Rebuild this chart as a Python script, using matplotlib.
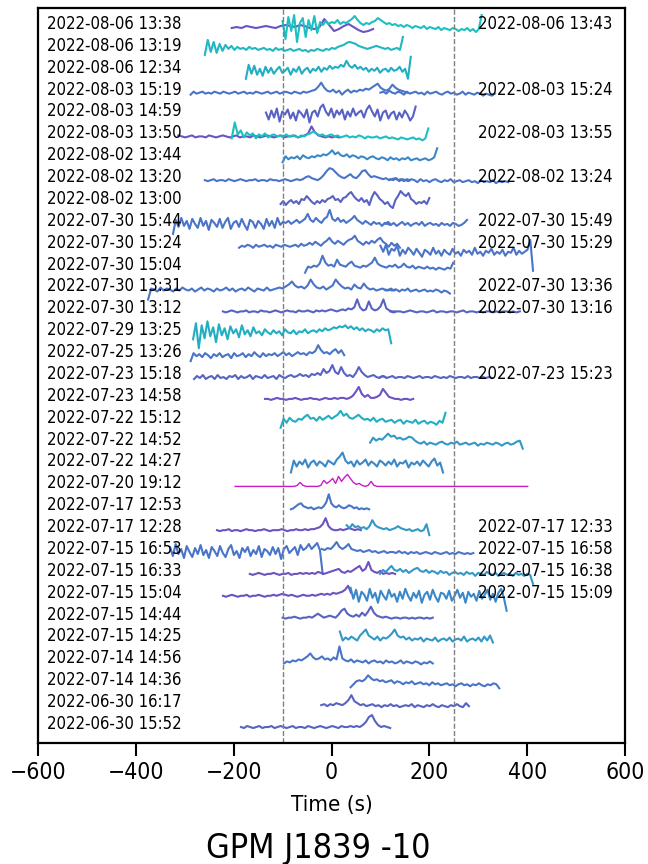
import matplotlib
matplotlib.use('Agg')
import matplotlib.pyplot as plt
from matplotlib import font_manager
import numpy as np

# observation labels, top row first
left_labels = [
    '2022-08-06 13:38', '2022-08-06 13:19', '2022-08-06 12:34', '2022-08-03 15:19',
    '2022-08-03 14:59', '2022-08-03 13:50', '2022-08-02 13:44', '2022-08-02 13:20',
    '2022-08-02 13:00', '2022-07-30 15:44', '2022-07-30 15:24', '2022-07-30 15:04',
    '2022-07-30 13:31', '2022-07-30 13:12', '2022-07-29 13:25', '2022-07-25 13:26',
    '2022-07-23 15:18', '2022-07-23 14:58', '2022-07-22 15:12', '2022-07-22 14:52',
    '2022-07-22 14:27', '2022-07-20 19:12', '2022-07-17 12:53', '2022-07-17 12:28',
    '2022-07-15 16:53', '2022-07-15 16:33', '2022-07-15 15:04', '2022-07-15 14:44',
    '2022-07-15 14:25', '2022-07-14 14:56', '2022-07-14 14:36', '2022-06-30 16:17',
    '2022-06-30 15:52',
]
right_rows = [0, 3, 5, 7, 9, 10, 12, 13, 16, 23, 24, 25, 26]
right_labels = [
    '2022-08-06 13:43', '2022-08-03 15:24', '2022-08-03 13:55', '2022-08-02 13:24',
    '2022-07-30 15:49', '2022-07-30 15:29', '2022-07-30 13:36', '2022-07-30 13:16',
    '2022-07-23 15:23', '2022-07-17 12:33', '2022-07-15 16:58', '2022-07-15 16:38',
    '2022-07-15 15:09',
]

# light curves (arbitrary flux units), one list per observation, sampled evenly
r00a = [-1,0,-1,1,0,-1,0,1,0,-1,1,2,1,0,2,1,-1,-2,0,8,2,-4,-2,1,3,0,-3,-5,-4,-2]
r00b = [6,-12,10,-4,12,-15,4,9,-10,7,-3,11,-6,5,2,6,3,5,4,7,3,5,4,6,8,11,7,4,2,4,
        3,5,6,9,7,5,3,4,2,3,1,2,0,2,1,-1,1,0,-1,1,-2,0,-1,-2,0,-3,-1,-2,-3,-1,
        -2,-4,-2,-3,-1,-4,-2,-5,-2,12]
r01 = [-6,9,-3,7,-4,5,-2,4,0,3,-1,2,0,1,-1,2,0,1,-1,0,1,-1,0,-2,1,-1,0,-2,-1,0,
       -2,-1,0,-2,-1,-3,-1,-2,0,-1,-2,0,-1,1,0,2,3,4,6,7,6,5,3,2,1,0,1,2,3,2,
       1,0,1,-1,0,1,-1,12]
r02 = [-8,6,-3,5,-4,2,-5,4,-2,3,-3,1,4,-2,0,3,-4,2,-1,4,-3,1,3,-2,2,0,4,-1,3,1,
       5,2,4,3,6,4,10,5,3,6,2,4,1,3,-1,2,0,3,-2,1,2,-1,3,0,1,4,-1,2,-8,14]
r03a = [-2,1,-1,0,1,-1,0,-1,1,0,-1,1,0,-1,0,1,-1,0,1,-1,0,-1,1,0,-1,0,1,-1,0,1,
        -1,0,1,0,-1,1,0,-1,1,0,1,2,3,6,10,5,2,1,3,0,2,-2,1,3,0,2,1,3,2,4,
        3,5,7,9,5,3,2,4,8,5,3,2,1,0]
r03b = [0,1,-1,2,0,-1,1,0,-2,1,-1,0,1,-1,0,-2,1,-1,0,1,-1,-2,0,1,-1,0,-2,-1,1,-2,
        0,-1,-2,0,-1,-3,-1,-2,-3,-1]
r04 = [2,-5,4,-3,6,-7,3,0,5,-4,2,-6,4,1,-3,5,-8,2,4,-2,7,10,3,-1,6,-3,4,0,5,-5,
       3,-2,6,-1,2,4,-3,5,9,3,-2,5,-6,2,4,-4,1,3,-5,2,-3,4,0,-6,-2,8]
r05a = [1,0,-1,0,1,-1,0,0,-1,1,0,-1,0,1,0,-1,0,1,-1,0,0,-1,1,0,-1,0,1,0,-1,0,
        1,-1,0,0,1,-1,0,1,3,10,4,1,0,-1,0,-1,0,-1]
r05b = [-2,14,2,6,-1,4,1,3,-2,2,0,3,-1,1,2,0,1,-1,2,0,1,0,-1,1,0,2,3,5,3,1,
        2,0,1,2,0,1,-1,0,1,-1,0,-1,1,0,-2,0,-1,-1,0,-2,-1,0,-2,-1,-2,-3,-1,-2,-3,-2,
        -1,-3,-2,-4,-2,8]
r06 = [-4,2,-1,1,0,2,-1,3,1,0,2,1,3,2,4,3,5,8,4,6,3,2,4,1,3,2,0,2,1,-1,
       1,2,0,-1,1,0,-2,1,-1,0,-2,0,-1,1,-2,-1,0,-2,-1,0,-2,-1,1,10]
r07a = [0,-1,0,1,-1,0,0,-1,1,0,-1,0,1,0,-1,0,0,1,-1,0,0,-1,1,0,0,-1,0,1,0,-1,
        0,1,0,1,3,4,2,1,0,2,5,9,12,11,8,5,3,2,4,6,3,2,5,9,10,6,3,4,3,2,
        1,2,0,1,2,0,1,-1,1,0]
r07b = [1,0,2,-1,1,0,-1,1,0,-2,1,-1,0,-2,0,1,-1,-2,0,-1,1,-2,-1,0,-2,-1,0,-2,-1,-3,
        0,-2,-1,-2,0,-3,-1,-2,-1,-2]
r08 = [-2,1,-3,0,2,-1,1,-2,3,2,6,3,0,-2,1,-1,2,0,3,4,6,2,3,0,4,5,8,10,6,3,
       1,4,0,2,-3,5,10,7,3,1,-2,0,-4,-6,2,6,11,8,6,9,3,1,-2,0,-1,1,-2,4]
r09a = [-10,4,-3,6,-2,3,-5,5,0,-4,6,-2,3,-6,4,1,-3,5,-4,2,6,-5,1,3,-3,5,-1,-6,4,2,
        -4,3,0,-5,5,-2,3,-4,6,-1,2,1,3,0,2,4,1,3,5,10,4,2,6,3,1,5,7,14,5,3,
        6,2,4,1,3,5,8,4,2,0,3,1,-1,2,0,1,-2,1,0,-1]
r09b = [0,2,-1,1,-2,0,2,-1,1,-2,0,1,-1,2,-2,0,1,-1,0,-2,1,-1,0,-2,1,0,-2,-1,1,4]
r10a = [-2,0,-1,1,0,-2,1,-1,0,1,-1,0,-2,1,0,-1,1,0,-1,0,1,-1,2,0,1,3,1,4,2,0,
        3,5,8,4,2,5,3,1,4,6,7,10,5,3,1,4,2,5,3,6,8,4,2,-1,3,0,2,-2]
r10b = [0,-6,1,-9,-3,-5,0,-10,-4,-8,-2,-5,-9,-3,-7,-11,-4,-6,-9,-2,-8,-5,-10,-4,-7,-9,-3,-8,-6,-10,
        -4,-7,-5,-9,-2,-8,-6,-10,-5,-7,-3,-9,-6,-8,-4,-10,-6,-7,-2,-9,-5,-8,-6,-4,6,-25]
r11 = [-5,1,0,2,1,4,12,5,2,3,1,8,3,2,1,4,6,2,1,0,2,1,3,5,10,4,2,1,0,2,
       1,3,0,1,4,1,0,2,-1,1,0,-1,1,-1,0,-2,0,-1,-2,0,-1,5]
r12a = [-10,1,0,-2,2,-1,1,0,-2,1,-1,2,0,-1,1,-2,0,2,-1,1,0,-2,1,-1,0,2,-1,1,-2,0,
        1,-1,2,0,-2,1,0,-1,2,-1,0,1,2,1,3,5,8,4,2,3,1,4,10,5,2,1,3,0,2,4,
        10,6,3,1,2,0,5,2,1,6,2,0,1,-1,0,1,-1,0,-1,0]
r12b = [0,-1,1,-1,0,-2,0,-1,1,-2,-1,0,-2,-1,0,-2,-1,-2,0,-1,-3,-1,-2,-4]
r13a = [0,-1,0,1,0,-1,0,0,1,-1,0,0,-1,1,0,0,-1,0,1,0,-1,0,1,0,0,-1,1,0,0,1,
        0,-1,1,0,1,0,1,2,1,0,1,2,1,3,2,4,12,4,1,2,10,3,1,2,5,12,3,1,0,0]
r13b = [0,-1,0,0,-1,0,1,0,-1,0,0,-1,0,1,-1,0,0,-1,0,0,-1,0,1,-1,0,0,-1,0,-1,0,
        0,-1,0,-1,0,0,-1,0,-1,0]
r14 = [-6,10,-15,8,-5,12,-3,6,-9,9,-2,5,-6,7,0,4,-4,8,-1,3,-3,6,0,2,-2,4,1,-1,3,0,
       2,-2,4,1,0,3,-1,2,1,4,0,2,3,1,4,2,5,3,4,6,5,7,6,8,5,7,4,6,3,5,
       2,4,3,1,4,2,5,3,4,-10]
r15 = [-6,2,-1,1,-2,2,0,-3,1,-1,2,-2,0,1,-3,2,-1,0,2,-2,1,-1,3,0,-2,2,-1,1,0,2,
       -1,1,3,0,2,-1,1,3,1,2,0,3,2,4,10,5,2,3,1,4,6,2,5,0]
r16a = [-2,1,-1,2,-2,0,1,-2,2,-1,0,-2,1,0,2,-2,1,-1,0,2,-2,1,0,-1,2,-1,0,1,-2,2,
        0,-1,1,2,0,1,3,1,2,0,3,2,4,2,8,4,6,12,5,3,10,4,1,2,0,4,10,5,2,0,
        1,2,0,-1,1,0]
r16b = [0,1,-1,0,1,-1,0,0,-1,1,0,-1,0,1,-1,0,0,-1,1,0,-1,0,-1,1,0,-1,0,0,-1,1,
        -1,0,0,-1,0,-1,0,-1]
r17 = [0,0,-1,0,1,0,0,-1,0,0,1,0,-1,0,0,1,0,0,-1,0,1,0,0,1,0,1,1,0,1,3,
       7,12,5,2,4,1,1,2,4,10,6,2,1,0,0,-1,0,0,-1,0]
r18 = [-7,2,-2,3,0,-1,2,1,4,6,2,3,0,4,1,3,5,2,4,6,10,5,7,3,2,4,6,3,1,2,
       0,3,-1,1,2,-1,0,1,-2,0,1,-3,0,-1,-2,1,-3,-1,0,-3,-1,-2,-4,0,-2,8]
r19 = [0,5,2,4,3,6,9,6,7,4,5,3,4,6,5,2,0,-1,1,-2,0,-1,-2,0,1,-1,-2,0,-1,1,
       -2,-1,0,-2,-1,0,-3,-1,-2,0,-1,-2,0,-1,-3,-1,0,-2,-1,1,2,-6]
r20 = [-8,4,-2,3,0,5,-3,2,4,-1,3,1,-2,4,2,0,5,8,12,4,1,3,-2,4,0,2,5,-1,3,1,
       -2,4,2,-1,3,0,5,-2,2,1,4,-3,2,0,3,-1,4,1,-2,3,6,-1,2,-8]
r21 = [0,0,0,0,0,0,0,0,0,0,0,0,0,0,0,0,0,0,0,0,0,1,4,1,0,0,0,0,0,1,
       6,3,5,8,3,10,5,9,12,8,4,2,3,1,0,1,5,1,0,0,0,0,0,0,0,0,0,0,0,0,
       0,0,0,0,0,0,0,0,0,0,0,0,0,0,0,0,0,0,0,0,0,0,0,0,0,0,0,0,0,0,
       0,0,0,0,0,0,0,0,0,0]
r22 = [-1,0,2,4,5,2,1,0,1,-1,0,1,0,2,6,14,5,2,1,3,1,0,1,3,2,0,1,-1,0,-1,0,-1]
r23a = [0,-1,0,0,1,-1,0,0,-1,0,1,0,0,-1,0,0,1,0,-1,0,0,0,1,0,-1,0,0,1,0,0,
        1,0,1,1,2,3,6,12,4,1,0,0,1,0,1,2,1,0,1,0]
r23b = [5,2,6,3,4,2,3,1,4,10,5,3,2,1,2,0,1,2,4,2,1,0,1,-1,0,1,-1,0,6,-5]
r24a = [5,-4,8,-2,3,-6,6,0,-5,4,-2,7,-3,2,-6,5,1,-4,6,-1,-5,3,7,-3,1,-6,4,0,5,-4,
        2,-2,6,-5,3,1,-3,5,-2,4,-7,3,6,-1,2,5,-3,7,2,4,8,3,6,9,2,-22]
r24b = [3,2,4,3,6,10,5,3,5,8,3,2,1,2,0,1,2,0,1,-1,0,1,-1,0,0,-1,1,-1,0,-2,
        0,-1,0,-2,-1,0,-1,-2,0,-1,-2,-1,0,-2,-1,-2,0,-1,-2,-1,-2,-1]
r25a = [0,-1,0,1,0,-1,0,0,1,0,-1,0,0,1,-1,0,0,1,0,1,0,1,0,2,1,0,1,2,3,4,
        5,2,1,3,2,4,6,8,3,5,12,4,2,1,3,0,1,0,1,0]
r25b = [0,4,2,5,8,4,3,5,2,4,1,3,5,6,3,2,4,1,3,2,0,3,1,2,-1,1,2,0,1,-1,
        2,0,1,-2,1,0,-1,2,0,-1,1,-2,0,1,-1,0,-2,1,-1,0,-2,0,-1,-10]
r26a = [0,-1,0,1,0,-1,0,0,1,-1,0,0,1,0,-1,0,0,1,0,1,2,1,0,1,0,-1,0,1,0,0,
        1,0,1,2,1,2,1,3,2,3,4,6,10,3]
r26b = [8,-3,6,-6,4,1,-5,7,-2,3,-7,5,0,-4,6,-1,2,-6,4,-3,7,0,-5,3,-2,5,-7,1,4,-4,
        6,-1,-6,3,2,-3,5,-5,0,6,-2,3,-7,4,-1,2,-5,5,-3,1,6,-4,2,-6,3,7,-2,-15]
r27 = [0,-1,0,0,1,0,-1,0,0,1,0,2,4,2,0,1,2,1,0,3,7,9,4,2,1,3,1,5,2,6,
       11,5,2,1,0,1,0,-1,0,0,-1,0,0,-1,0,-1,0,0,-1,0,-1,0]
r28 = [8,-1,2,0,3,1,-1,4,7,10,4,2,0,3,-1,2,1,3,6,10,4,2,3,0,2,-1,1,0,2,-2,
       1,0,-1,2,-2,0,1,-1,2,-2,0,1,-1,3,-2,0,1,-1,2,-2,3,-1,4,-3]
r29 = [-2,0,-1,1,0,2,1,3,5,8,4,2,3,5,2,3,1,4,2,15,3,1,0,2,-1,1,0,-1,1,-2,
       0,1,-1,0,-2,1,-1,0,-2,-1,1,-2,0,-1,-2,0,-1,-3,-1,-2,0,-2]
r30 = [-4,-1,2,3,2,4,8,5,3,4,2,3,1,2,3,0,2,1,-1,1,0,2,-1,0,1,-1,0,-2,1,-1,
       0,-2,-1,0,-2,-1,-3,-1,0,-2,-1,-3,-1,-2,0,-2,-3,-1,-2,0,-1,-5]
r31 = [0,1,-1,1,0,2,1,0,2,5,10,4,2,0,1,-1,0,1,-1,0,-2,0,-1,1,-1,0,-2,-1,0,-1,
       1,-2,0,-1,-2,0,-1,1,-1,-2,0,-1,-2,0,-1,1,-1,-2,2,-1]
r32 = [0,-1,1,0,-1,0,1,-1,0,0,1,-1,0,1,0,-1,0,1,-1,0,0,-1,1,0,-1,0,1,0,-1,0,
       1,0,-1,1,0,0,1,0,1,0,2,5,10,12,6,2,0,1,0,-1]

# colours used in the figure
purple = '#6c52c2'
indigo = '#5862c2'
blue = '#4a74c8'
steel = '#3a88c8'
cerul = '#3298c8'
teal = '#22aec2'
cyan = '#1cc0c0'
magenta = '#c81cc8'

# (row, start time, end time, colour, curve)
segments = [
    (0, -204, 85, purple, r00a), (0, -100, 307, cyan, r00b),
    (1, -259, 146, '#20b8c0', r01),
    (2, -175, 162, teal, r02),
    (3, -288, 155, blue, r03a), (3, 100, 334, blue, r03b),
    (4, -134, 172, indigo, r04),
    (5, -313, 15, purple, r05a), (5, -204, 198, cyan, r05b),
    (6, -100, 216, steel, r06),
    (7, -259, 160, blue, r07a), (7, 120, 361, blue, r07b),
    (8, -104, 200, indigo, r08),
    (9, -324, 120, blue, r09a), (9, 110, 277, blue, r09b),
    (10, -189, 140, blue, r10a), (10, 100, 412, blue, r10b),
    (11, -54, 249, blue, r11),
    (12, -375, 130, blue, r12a), (12, 110, 242, blue, r12b),
    (13, -222, 130, indigo, r13a), (13, 120, 385, indigo, r13b),
    (14, -283, 122, teal, r14),
    (15, -288, 26, blue, r15),
    (16, -281, 110, indigo, r16a), (16, 100, 328, indigo, r16b),
    (17, -136, 167, purple, r17),
    (18, -104, 233, teal, r18),
    (19, 79, 391, cerul, r19),
    (20, -83, 228, steel, r20),
    (21, -197, 401, magenta, r21),
    (22, -83, 77, blue, r22),
    (23, -234, 60, purple, r23a), (23, 31, 200, cerul, r23b),
    (24, -330, -18, blue, r24a), (24, -20, 290, blue, r24b),
    (25, -167, 130, purple, r25a), (25, 99, 412, cerul, r25b),
    (26, -222, 40, purple, r26a), (26, 39, 358, steel, r26b),
    (27, -100, 207, indigo, r27),
    (28, 17, 330, cerul, r28),
    (29, -97, 207, blue, r29),
    (30, 39, 343, blue, r30),
    (31, -21, 281, indigo, r31),
    (32, -185, 120, indigo, r32),
]

scale = 1 / 21.9   # flux units per row spacing
drop = 0.14        # curves sit a little under their label

# the reference text is narrow: use DejaVu Sans Condensed when it is there
cond = font_manager.FontProperties(family='DejaVu Sans', stretch='condensed')
has_cond = 'Condensed' in font_manager.findfont(cond, fallback_to_default=True)
if has_cond:
    plt.rcParams['font.stretch'] = 'condensed'
    fs_lab, fs_tick, fs_xlab, fs_title = 12, 16.5, 16, 24.5
else:
    fs_lab, fs_tick, fs_xlab, fs_title = 10, 13.5, 14, 22

fig = plt.figure(figsize=(6.48, 8.64), dpi=100)
ax = fig.add_axes([38 / 648, 1 - 743 / 864, 587 / 648, 735 / 864])

for row, t0, t1, col, vals in segments:
    y = np.array(vals, dtype=float)
    t = np.linspace(t0, t1, len(y))
    lw = 1.0 if col == magenta else 1.5
    ax.plot(t, -row - drop + y * scale, color=col, lw=lw)

for i, lab in enumerate(left_labels):
    ax.text(-582, -i, lab, fontsize=fs_lab, va='center', ha='left')
for row, lab in zip(right_rows, right_labels):
    ax.text(300, -row, lab, fontsize=fs_lab, va='center', ha='left')

ax.axvline(-100, color='gray', ls='--', lw=1)
ax.axvline(250, color='gray', ls='--', lw=1)

ax.set_xlim(-600, 600)
ax.set_ylim(-32.87, 0.73)
ax.set_xticks(np.arange(-600, 601, 200))
ax.set_yticks([])
ax.tick_params(axis='x', labelsize=fs_tick, length=9, width=1.5, pad=4)
for s in ax.spines.values():
    s.set_linewidth(1.6)
ax.set_xlabel('Time (s)', fontsize=fs_xlab, labelpad=8)

fig.text(0.491, 0.0185, 'GPM J1839 -10', fontsize=fs_title, ha='center', va='center')

fig.savefig('out.png', dpi=100)
